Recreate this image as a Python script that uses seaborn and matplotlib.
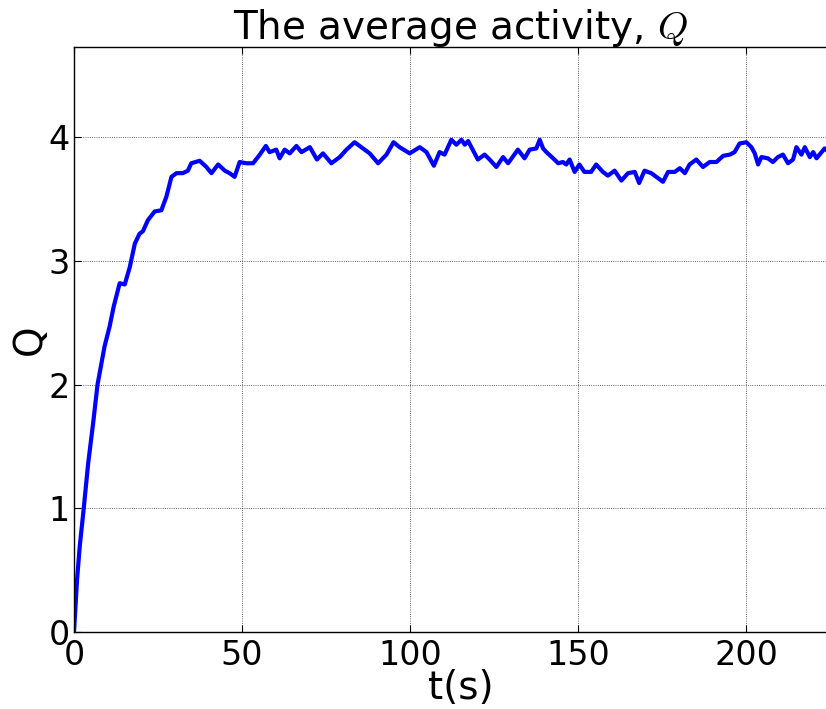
import matplotlib
matplotlib.use("Agg")
import matplotlib.pyplot as plt
import seaborn as sns
import pandas as pd

t_s = [0, 0.9, 1.7, 2.9, 4.2, 5.7, 7.0, 9.1, 10.6, 11.8, 13.6, 15.1, 16.6, 18.1, 19.5, 20.5,
       22.0, 24.0, 26.0, 27.5, 29.0, 30.5, 32.4, 33.9, 34.9, 37.4, 39.4, 40.9, 42.9, 44.9,
       46.3, 47.8, 49.3, 51.3, 53.3, 55.3, 57.1, 58.2, 60.2, 61.2, 62.7, 64.2, 66.2, 67.7,
       70.2, 72.3, 74.1, 76.6, 79.1, 81.1, 83.5, 86.0, 88.0, 90.5, 93.0, 95.1, 96.9, 99.9,
       102.9, 104.9, 107.1, 108.8, 110.3, 112.3, 113.8, 115.3, 116.3, 117.3, 120.2, 122.2,
       123.7, 125.7, 127.7, 129.2, 132.1, 134.1, 135.6, 137.6, 138.6, 139.6, 140.6, 142.6,
       144.1, 145.5, 146.5, 147.5, 149.0, 150.4, 151.9, 153.9, 155.4, 157.4, 158.9, 160.9,
       162.9, 164.9, 166.9, 168.2, 169.8, 171.8, 173.3, 175.3, 176.8, 178.8, 180.3, 181.8,
       183.2, 185.2, 187.2, 189.2, 191.2, 193.2, 195.2, 196.6, 198.1, 200.1, 201.6, 202.6,
       203.6, 204.6, 206.5, 208.0, 209.5, 211.0, 212.5, 214.0, 215.0, 216.5, 217.5, 219.0,
       220.0, 221.0, 222.5, 223.4, 225.0]
q_vals = [0, 0.42, 0.69, 1.0, 1.36, 1.69, 2.0, 2.31, 2.47, 2.63, 2.82, 2.81, 2.95, 3.14, 3.22, 3.24,
          3.33, 3.40, 3.41, 3.52, 3.68, 3.71, 3.71, 3.73, 3.79, 3.81, 3.76, 3.71, 3.78, 3.73,
          3.71, 3.68, 3.80, 3.79, 3.79, 3.86, 3.93, 3.88, 3.90, 3.83, 3.90, 3.87, 3.93, 3.88,
          3.92, 3.82, 3.87, 3.79, 3.84, 3.90, 3.96, 3.91, 3.87, 3.79, 3.86, 3.96, 3.92, 3.87,
          3.92, 3.88, 3.77, 3.88, 3.86, 3.98, 3.94, 3.98, 3.94, 3.97, 3.82, 3.86,
          3.82, 3.76, 3.84, 3.79, 3.90, 3.83, 3.90, 3.91, 3.98, 3.91, 3.88, 3.83,
          3.79, 3.80, 3.78, 3.82, 3.72, 3.78, 3.72, 3.72, 3.78, 3.72, 3.69, 3.73,
          3.65, 3.71, 3.72, 3.63, 3.73, 3.71, 3.68, 3.64, 3.72, 3.72, 3.75, 3.71,
          3.78, 3.82, 3.76, 3.80, 3.80, 3.85, 3.86, 3.88, 3.95, 3.96, 3.92, 3.87,
          3.78, 3.84, 3.83, 3.80, 3.84, 3.86, 3.79, 3.82, 3.92, 3.86, 3.92, 3.84,
          3.88, 3.83, 3.88, 3.91, 3.87]
x_ticks = [0, 50, 100, 150, 200]
y_ticks = [0, 1, 2, 3, 4]

df = pd.DataFrame({"t": t_s, "Q": q_vals})

sns.set_theme(style="white")
plt.rcParams["font.family"] = ["DejaVu Sans"]
plt.rcParams["mathtext.fontset"] = "cm"
plt.rcParams["text.color"] = "black"
plt.rcParams["axes.labelcolor"] = "black"

fig = plt.figure(figsize=(8.26, 7.09), dpi=100)
ax = fig.add_axes([74 / 826, 77 / 709, 230 * 3.36 / 826, 585 / 709])

sns.lineplot(data=df, x="t", y="Q", ax=ax, color="#0000ff", linewidth=3, sort=False)

ax.set_xlim(0, 230)
ax.set_ylim(0, 4.73)
ax.set_xticks(x_ticks)
ax.set_yticks(y_ticks)
ax.grid(True, linestyle=":", color="black", linewidth=0.6, alpha=0.8)
for sp in ax.spines.values():
    sp.set_color("black")
    sp.set_linewidth(1.0)
ax.tick_params(axis="both", direction="in", length=5, width=0.8, colors="black",
               labelsize=24, labelcolor="black", top=True, right=True, bottom=True, left=True)
ax.tick_params(axis="y", pad=3)
ax.tick_params(axis="x", pad=5)
ax.set_xlabel("t(s)", fontsize=28, labelpad=-2, color="black")
ax.set_ylabel("Q", fontsize=28, labelpad=0, color="black")
ax.set_title("The average activity, $Q$", fontsize=28, pad=6, color="black")

fig.savefig("out.png", dpi=100, facecolor="white")
